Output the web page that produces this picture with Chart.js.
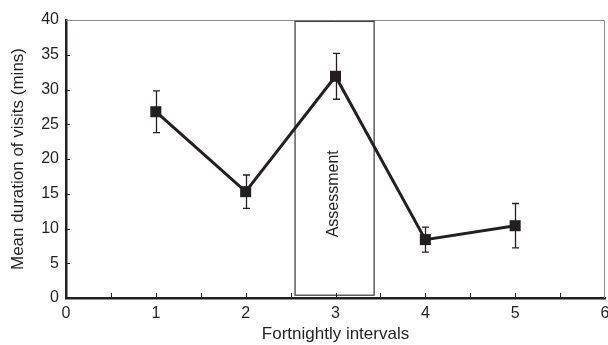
<!DOCTYPE html>
<html>
<head>
<meta charset="utf-8">
<script src="https://cdn.jsdelivr.net/npm/chart.js@4.4.0/dist/chart.umd.min.js"></script>
<style>
  html, body { margin: 0; padding: 0; background: #fff; }
  #wrap { width: 608px; height: 345px; }
</style>
</head>
<body>
<div id="wrap"><canvas id="chart" width="608" height="345"></canvas></div>
<script>
// fortnightly intervals and mean visit duration (mins) with error bars
const intervals = [1, 2, 3, 4, 5];
const meanDuration = [26.8, 15.3, 31.9, 8.4, 10.4];
const errorSize = [3.0, 2.4, 3.3, 1.8, 3.2];
const assessmentRange = [2.55, 3.43];   // x extent of the "Assessment" box
const assessmentY = [0.4, 39.8];        // y extent of the box
const assessmentLabel = 'Assessment';

const FONT = '"Liberation Sans", Arial, Helvetica, sans-serif';
const INK = '#231f20';

// error bars, assessment box, frame and inward ticks
const extrasPlugin = {
    id: 'extras',
    beforeDatasetsDraw(chart) {
        const ctx = chart.ctx;
        const xs = chart.scales.x;
        const ys = chart.scales.y;
        const area = chart.chartArea;
        ctx.save();

        // light frame on top and right
        ctx.strokeStyle = '#8a8a8a';
        ctx.lineWidth = 1;
        ctx.beginPath();
        ctx.moveTo(area.left, area.top + 0.5);
        ctx.lineTo(area.right - 0.5, area.top + 0.5);
        ctx.lineTo(area.right - 0.5, area.bottom);
        ctx.stroke();

        // assessment box
        const bx1 = xs.getPixelForValue(assessmentRange[0]);
        const bx2 = xs.getPixelForValue(assessmentRange[1]);
        const by1 = ys.getPixelForValue(assessmentY[1]);
        const by2 = ys.getPixelForValue(assessmentY[0]);
        ctx.strokeStyle = '#444';
        ctx.lineWidth = 1.3;
        ctx.strokeRect(bx1, by1, bx2 - bx1, by2 - by1);

        ctx.fillStyle = INK;
        ctx.font = '16px ' + FONT;
        ctx.textAlign = 'center';
        ctx.textBaseline = 'middle';
        ctx.translate((bx1 + bx2) / 2 - 1, ys.getPixelForValue(15));
        ctx.rotate(-Math.PI / 2);
        ctx.fillText(assessmentLabel, 0, 0);
        ctx.setTransform(1, 0, 0, 1, 0, 0);

        // error bars
        ctx.strokeStyle = INK;
        ctx.lineWidth = 1.3;
        intervals.forEach((x, i) => {
            const px = Math.round(xs.getPixelForValue(x)) + 0.5;
            const top = ys.getPixelForValue(meanDuration[i] + errorSize[i]);
            const bot = ys.getPixelForValue(meanDuration[i] - errorSize[i]);
            ctx.beginPath();
            ctx.moveTo(px, top);
            ctx.lineTo(px, bot);
            ctx.moveTo(px - 3.5, top);
            ctx.lineTo(px + 3.5, top);
            ctx.moveTo(px - 3.5, bot);
            ctx.lineTo(px + 3.5, bot);
            ctx.stroke();
        });

        // inward ticks: x every half interval, y every 5
        ctx.strokeStyle = INK;
        ctx.lineWidth = 1;
        for (let v = 0.5; v < 6; v += 0.5) {
            const px = Math.round(xs.getPixelForValue(v)) + 0.5;
            ctx.beginPath();
            ctx.moveTo(px, area.bottom);
            ctx.lineTo(px, area.bottom - 5);
            ctx.stroke();
        }
        for (let v = 5; v < 40; v += 5) {
            const py = Math.round(ys.getPixelForValue(v)) + 0.5;
            ctx.beginPath();
            ctx.moveTo(area.left, py);
            ctx.lineTo(area.left + 4, py);
            ctx.stroke();
        }
        ctx.restore();
    }
};

new Chart(document.getElementById('chart').getContext('2d'), {
    type: 'line',
    data: {
        datasets: [{
            data: intervals.map((x, i) => ({ x: x, y: meanDuration[i] })),
            borderColor: INK,
            borderWidth: 3,
            backgroundColor: INK,
            pointStyle: 'rect',
            pointRadius: 7.8,
            pointBorderWidth: 0,
            tension: 0
        }]
    },
    options: {
        responsive: false,
        animation: false,
        // autoPadding off so the point size does not push the right edge in
        layout: { autoPadding: false, padding: { top: 20, right: 3, left: 0, bottom: 0 } },
        plugins: { legend: { display: false }, tooltip: { enabled: false } },
        scales: {
            x: {
                type: 'linear',
                min: 0,
                max: 6,
                grid: { display: false, drawTicks: false },
                border: { color: INK, width: 2.5 },
                ticks: {
                    stepSize: 1,
                    padding: 6,
                    color: INK,
                    font: { family: FONT, size: 16 }
                },
                title: {
                    display: true,
                    text: 'Fortnightly intervals',
                    color: INK,
                    font: { family: FONT, size: 17 },
                    padding: { top: 0, bottom: 0 }
                },
                afterFit(scale) {
                    scale.height = 47;
                    scale.paddingRight = 0;
                    scale.paddingLeft = 0;
                }
            },
            y: {
                min: 0,
                max: 40,
                grid: { display: false, drawTicks: false },
                border: { color: INK, width: 2.5 },
                ticks: {
                    stepSize: 5,
                    padding: 7,
                    color: INK,
                    font: { family: FONT, size: 16 }
                },
                title: {
                    display: true,
                    text: 'Mean duration of visits (mins)',
                    color: INK,
                    font: { family: FONT, size: 17 },
                    padding: { top: 8, bottom: 2 }
                },
                afterFit(scale) {
                    scale.width = 66;
                    scale.paddingTop = 0;
                    scale.paddingBottom = 0;
                }
            }
        }
    },
    plugins: [extrasPlugin]
});
</script>
</body>
</html>
